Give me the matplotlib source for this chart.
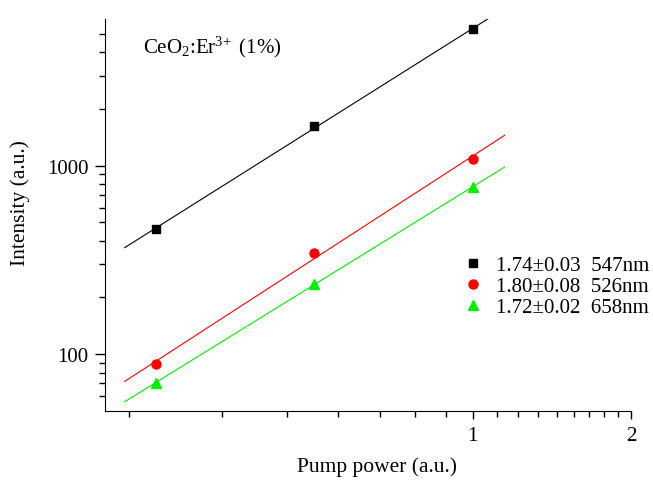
import numpy as np
import matplotlib
matplotlib.use("Agg")
from matplotlib import pyplot as plt
from matplotlib.ticker import FixedLocator, NullFormatter

plt.rcParams['font.family'] = ['Liberation Serif', 'DejaVu Serif']
plt.rcParams['mathtext.fontset'] = 'custom'
plt.rcParams['mathtext.rm'] = 'Liberation Serif'
plt.rcParams['mathtext.it'] = 'Liberation Serif:italic'

# pump power (a.u.)
power = [0.25, 0.5, 1.0]
# intensity for each emission band
i_547 = [462, 1620, 5280]
i_526 = [89, 343, 1090]
i_658 = [70.6, 236, 770]

labels = ['1.74\u00b10.03  547nm', '1.80\u00b10.08  526nm', '1.72\u00b10.02  658nm']
colors = ['black', 'red', '#00ee00']
markers = ['s', 'o', '^']
msizes = [6, 6.5, 7]

fig = plt.figure(figsize=(6.53, 4.81), dpi=100)
ax = fig.add_axes([105 / 653, 69 / 481, 526 / 653, 392 / 481])

fit_x = np.array([0.218, 1.15])
for y, c, m, ms, lab in zip([i_547, i_526, i_658], colors, markers, msizes, labels):
    slope, icpt = np.polyfit(np.log10(power), np.log10(y), 1)
    ax.plot(fit_x, 10 ** (icpt + slope * np.log10(fit_x)), color=c, lw=0.8)
    ax.plot(power, y, ls='none', marker=m, color=c, ms=ms, label=lab)

ax.set_xscale('log')
ax.set_yscale('log')
ax.set_xlim(0.2, 2)
ax.set_ylim(50, 6000)

ax.xaxis.set_major_locator(FixedLocator([1, 2]))
ax.set_xticklabels(['1', '2'])
minor_x = [k / 9 for k in range(2, 9)] + [1 + k / 9 for k in range(1, 9)]
ax.xaxis.set_minor_locator(FixedLocator(minor_x))
ax.xaxis.set_minor_formatter(NullFormatter())

ax.yaxis.set_major_locator(FixedLocator([100, 1000]))
ax.set_yticklabels(['100', '1000'])
minor_y = [60, 70, 80, 90] + list(range(200, 1000, 100)) + [2000, 3000, 4000, 5000]
ax.yaxis.set_minor_locator(FixedLocator(minor_y))
ax.yaxis.set_minor_formatter(NullFormatter())

for s in ['top', 'right']:
    ax.spines[s].set_visible(False)
ax.tick_params(which='major', direction='out', length=6, width=1, labelsize=15)
ax.tick_params(which='minor', direction='out', length=4, width=1)
ax.tick_params(axis='x', which='major', pad=5)
ax.tick_params(axis='y', which='major', length=7, pad=5)

ax.set_xlabel('Pump power (a.u.)', fontsize=15.5)
ax.xaxis.set_label_coords(0.517, -0.115)
ax.set_ylabel('Intensity (a.u.)', fontsize=15.5)
ax.yaxis.set_label_coords(-0.142, 0.533)

ax.text(0.073, 0.916, 'CeO$_2$:Er$^{3\\!+}$ (1%)', transform=ax.transAxes,
        fontsize=15, va='baseline')

ax.legend(loc='center left', bbox_to_anchor=(0.68, 0.318), frameon=False,
          fontsize=15, handlelength=1.0, handletextpad=0.6, labelspacing=0.08,
          borderpad=0, borderaxespad=0)

fig.savefig('out.png', dpi=100)
